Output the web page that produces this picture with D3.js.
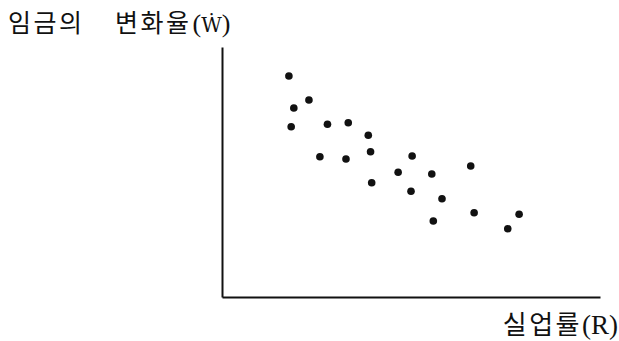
<!DOCTYPE html>
<html>
<head>
<meta charset="utf-8">
<script src="https://cdn.jsdelivr.net/npm/d3@7"></script>
<style>
  html, body { margin: 0; padding: 0; background: #fff; }
  svg { display: block; }
  text { fill: #111; }
  .ko { font-family: "Noto Sans CJK KR", "Noto Sans", sans-serif; }
  .lat { font-family: "Liberation Serif", "DejaVu Serif", serif; }
  .sym { font-family: "DejaVu Serif", "Liberation Serif", serif; }
</style>
</head>
<body>
<svg id="chart" width="619" height="341"></svg>
<script>
// Unemployment rate (R) and rate of wage change (Ẇ) observations
const unemployment = [1.77, 1.90, 2.30, 1.83, 2.79, 3.34, 3.87, 2.59, 3.28, 3.93, 3.96,
                      4.66, 5.03, 5.55, 6.58, 5.00, 5.82, 6.67, 5.59, 7.86, 7.56];
const wageChange   = [8.84, 7.56, 7.88, 6.81, 6.91, 6.97, 6.47, 5.61, 5.52, 5.81, 4.57,
                      4.99, 5.64, 4.92, 5.24, 4.23, 3.93, 3.37, 3.04, 3.31, 2.73];
const yTitleWords = ["임금의", "변화율"];
const yTitleSymbol = "Ẇ";
const xTitleWord = "실업률";
const xTitleSymbol = "R";

const svg = d3.select("#chart");

const x = d3.scaleLinear().domain([0, 10]).range([222, 600]);
const y = d3.scaleLinear().domain([0, 10]).range([297, 47]);

// Bare axes: no ticks, no labels
const xAxis = d3.axisBottom(x).tickValues([]).tickSizeOuter(0);
const yAxis = d3.axisLeft(y).tickValues([]).tickSizeOuter(0);

svg.append("g").attr("transform", `translate(0,${y(0)})`).call(xAxis)
  .select(".domain").attr("stroke", "#111").attr("stroke-width", 2);
svg.append("g").attr("transform", `translate(${x(0)},0)`).call(yAxis)
  .select(".domain").attr("stroke", "#111").attr("stroke-width", 2);

// Scatter points
const pts = unemployment.map((u, i) => ({ u, w: wageChange[i] }));
svg.append("g").selectAll("circle").data(pts).join("circle")
  .attr("cx", d => x(d.u))
  .attr("cy", d => y(d.w))
  .attr("r", 3.8)
  .attr("fill", "#111");

// Places a run of text pieces left to right and returns their elements
function runText(x0, baseline, pieces) {
  let cx = x0;
  return pieces.map(p => {
    const t = svg.append("text")
      .attr("class", p.cls)
      .attr("x", cx).attr("y", baseline)
      .attr("font-size", p.size)
      .attr("letter-spacing", p.ls || 0)
      .text(p.text);
    cx += t.node().getComputedTextLength() + (p.gap || 0);
    return t;
  });
}

// Vertical-axis title
runText(8, 32, [{ text: yTitleWords[0], cls: "ko", size: 25, ls: 2.5 }]);
runText(115, 32, [
  { text: yTitleWords[1], cls: "ko", size: 25, ls: 2.5, gap: 1 },
  { text: "(", cls: "lat", size: 26 },
  { text: yTitleSymbol, cls: "sym", size: 20 },
  { text: ")", cls: "lat", size: 26 }
]);

// Horizontal-axis title, right-aligned
const xt = runText(0, 334, [
  { text: xTitleWord, cls: "ko", size: 26, ls: 2.5 },
  { text: "(", cls: "lat", size: 27 },
  { text: xTitleSymbol, cls: "lat", size: 27 },
  { text: ")", cls: "lat", size: 27 }
]);
const lastNode = xt[xt.length - 1];
const shift = 618 - (+lastNode.attr("x") + lastNode.node().getComputedTextLength());
xt.forEach(t => t.attr("x", +t.attr("x") + shift));
</script>
</body>
</html>
